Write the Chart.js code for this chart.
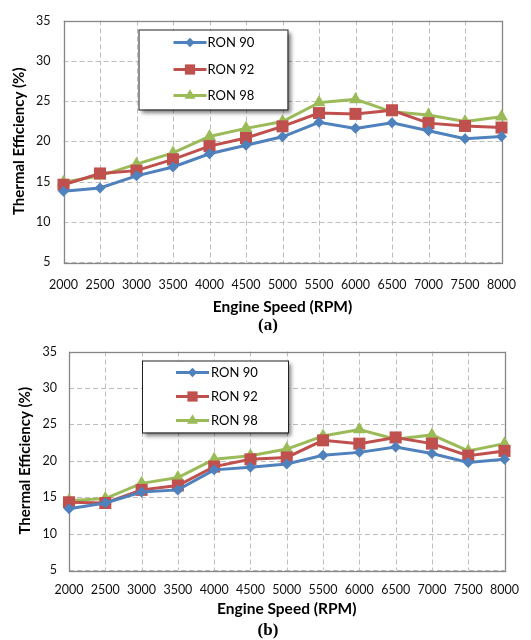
<!DOCTYPE html>
<html><head><meta charset="utf-8">
<script src="https://cdn.jsdelivr.net/npm/chart.js@4"></script>
<style>
html,body{margin:0;padding:0;background:#fff;width:531px;height:640px;overflow:hidden}
.wrap{position:absolute;left:0;width:531px}
.cap{position:absolute;left:0;width:536px;text-align:center;font:bold 17px "Liberation Serif",serif;color:#000;line-height:20px}
</style></head><body>
<div class="wrap" style="top:0;height:316px"><canvas id="ca" width="531" height="316"></canvas></div>
<div class="cap" style="top:315px">(a)</div>
<div class="wrap" style="top:332px;height:286px"><canvas id="cb" width="531" height="286"></canvas></div>
<div class="cap" style="top:620px">(b)</div>
<script>
// ---- data ----
const engineSpeeds = ['2000','2500','3000','3500','4000','4500','5000','5500','6000','6500','7000','7500','8000'];
const seriesNames = ['RON 90','RON 92','RON 98'];
const effA_RON90 = [13.8,14.2,15.7,16.8,18.45,19.5,20.55,22.35,21.6,22.3,21.3,20.3,20.6];
const effA_RON92 = [14.6,16.0,16.35,17.75,19.4,20.4,21.85,23.5,23.4,23.85,22.25,21.9,21.7];
const effA_RON98 = [14.9,15.7,17.15,18.55,20.6,21.6,22.45,24.8,25.2,23.65,23.25,22.45,23.05];
const effB_RON90 = [13.4,14.2,15.7,16.0,18.75,19.1,19.55,20.75,21.15,21.9,21.0,19.75,20.2];
const effB_RON92 = [14.3,14.2,16.0,16.6,19.2,20.2,20.45,22.8,22.35,23.2,22.35,20.7,21.35];
const effB_RON98 = [14.55,14.8,16.9,17.7,20.2,20.7,21.6,23.4,24.3,22.95,23.55,21.35,22.35];
const yMin = 5, yMax = 35, yStep = 5;
const xTitle = 'Engine Speed (RPM)';
const yTitle = 'Thermal Efficiency (%)';

// ---- styles ----
const COLORS = ['#4F81BD','#C0504D','#9BBB59'];
const STYLES = [
  {pointStyle:'rectRot', pointRadius:5.5},
  {pointStyle:'rect', pointRadius:8.5},
  {pointStyle:'triangle', pointRadius:7.5}
];

function makeDatasets(arrs){
  return arrs.map((d,i)=>({
    label: seriesNames[i], data: d,
    borderColor: COLORS[i], backgroundColor: COLORS[i],
    pointBackgroundColor: COLORS[i], pointBorderColor: COLORS[i],
    pointStyle: STYLES[i].pointStyle, pointRadius: STYLES[i].pointRadius,
    pointBorderWidth: 0, borderWidth: 3, tension: 0, clip: false
  }));
}

const frameAndLegend = {
  id: 'frameAndLegend',
  beforeDatasetsDraw(chart){
    const a = chart.chartArea, ctx = chart.ctx;
    const xs = chart.scales.x, ys = chart.scales.y;
    ctx.save();
    // dashed grid, positioned by the library's scales
    ctx.strokeStyle = '#bdbdbd'; ctx.lineWidth = 1; ctx.setLineDash([5,3]);
    xs.ticks.forEach((t, i) => {
      const x = Math.round(xs.getPixelForTick(i)) + 0.5;
      ctx.beginPath(); ctx.moveTo(x, a.top); ctx.lineTo(x, a.bottom); ctx.stroke();
    });
    ys.ticks.forEach((t, i) => {
      const y = Math.round(ys.getPixelForTick(i)) + 0.5;
      ctx.beginPath(); ctx.moveTo(a.left, y); ctx.lineTo(a.right, y); ctx.stroke();
    });
    ctx.setLineDash([]);
    ctx.strokeStyle = '#868686'; ctx.lineWidth = 1.3;
    ctx.strokeRect(Math.round(a.left)+0.5, Math.round(a.top)+0.5, Math.round(a.right-a.left), Math.round(a.bottom-a.top));
    ctx.restore();
  },
  afterDatasetsDraw(chart, args, opts){
    const ctx = chart.ctx, a = chart.chartArea;
    const L = a.left + opts.dx, T = a.top + opts.dy;
    ctx.save();
    ctx.setLineDash([]);
    ctx.shadowColor = 'rgba(0,0,0,0.5)'; ctx.shadowBlur = 4;
    ctx.shadowOffsetX = 3; ctx.shadowOffsetY = 3;
    ctx.fillStyle = '#fff';
    ctx.fillRect(L, T, opts.w, opts.h);
    ctx.shadowColor = 'transparent';
    ctx.strokeStyle = '#222'; ctx.lineWidth = 1;
    ctx.strokeRect(L+0.5, T+0.5, opts.w, opts.h);
    chart.data.datasets.forEach((ds, i) => {
      const y = T + opts.rows[i];
      const x0 = L + opts.lineX0, x1 = L + opts.lineX1;
      ctx.strokeStyle = ds.borderColor; ctx.lineWidth = 3;
      ctx.beginPath(); ctx.moveTo(x0, y); ctx.lineTo(x1, y); ctx.stroke();
      ctx.fillStyle = ds.borderColor; ctx.strokeStyle = ds.borderColor;
      Chart.helpers.drawPoint(ctx, {pointStyle: ds.pointStyle, radius: ds.pointRadius*0.85, borderWidth: 0, rotation: 0}, (x0+x1)/2, y);
      ctx.fillStyle = '#000';
      ctx.font = '13px Lato';
      ctx.textBaseline = 'middle'; ctx.textAlign = 'left';
      ctx.fillText(ds.label, L + opts.textX, y + 0.5);
    });
    ctx.restore();
  }
};

function makeChart(id, arrs, cfg){
  return new Chart(document.getElementById(id), {
    type: 'line',
    data: { labels: engineSpeeds, datasets: makeDatasets(arrs) },
    plugins: [frameAndLegend],
    options: {
      responsive: false, animation: false,
      layout: { padding: { top: cfg.padTop, right: cfg.padRight, left: 0, bottom: 0 } },
      plugins: {
        legend: { display: false }, tooltip: { enabled: false },
        frameAndLegend: cfg.legend
      },
      scales: {
        x: {
          offset: false,
          grid: { display: false, drawTicks: false },
          border: { display: false },
          ticks: { color: '#111', font: { family: 'Lato', size: 12.5 }, padding: cfg.xTickPad, maxRotation: 0, autoSkip: false },
          title: { display: true, text: xTitle, color: '#000', font: { family: 'Lato', size: 15.5, weight: 'bold' }, padding: cfg.xTitlePad },
          afterFit(s){ s.height = cfg.xAxisH; }
        },
        y: {
          min: yMin, max: yMax,
          grid: { display: false, drawTicks: false },
          border: { display: false },
          ticks: { stepSize: yStep, color: '#111', font: { family: 'Lato', size: 12.5 }, padding: cfg.yTickPad },
          title: { display: true, text: yTitle, color: '#000', font: { family: 'Lato', size: 15, weight: 'bold' }, padding: cfg.yTitlePad },
          afterFit(s){ s.width = cfg.yAxisW; }
        }
      }
    }
  });
}

makeChart('ca', [effA_RON90, effA_RON92, effA_RON98], {
  padTop: 18, padRight: 19.5, xAxisH: 54, yAxisW: 63.5,
  xTickPad: 15, yTickPad: 13, xTitlePad: {top: 8, bottom: 0}, yTitlePad: {top: 10, bottom: 2},
  legend: { dx: 75, dy: 9, w: 149, h: 80, rows: [13, 40, 66], lineX0: 35, lineX1: 68, textX: 69 }
});
makeChart('cb', [effB_RON90, effB_RON92, effB_RON98], {
  padTop: 17, padRight: 26, xAxisH: 48, yAxisW: 69,
  xTickPad: 12, yTickPad: 12, xTitlePad: {top: 6, bottom: 0}, yTitlePad: {top: 16, bottom: 2},
  legend: { dx: 73, dy: 9, w: 146, h: 72, rows: [12, 36, 60], lineX0: 34, lineX1: 67, textX: 69 }
});
</script>
</body></html>
